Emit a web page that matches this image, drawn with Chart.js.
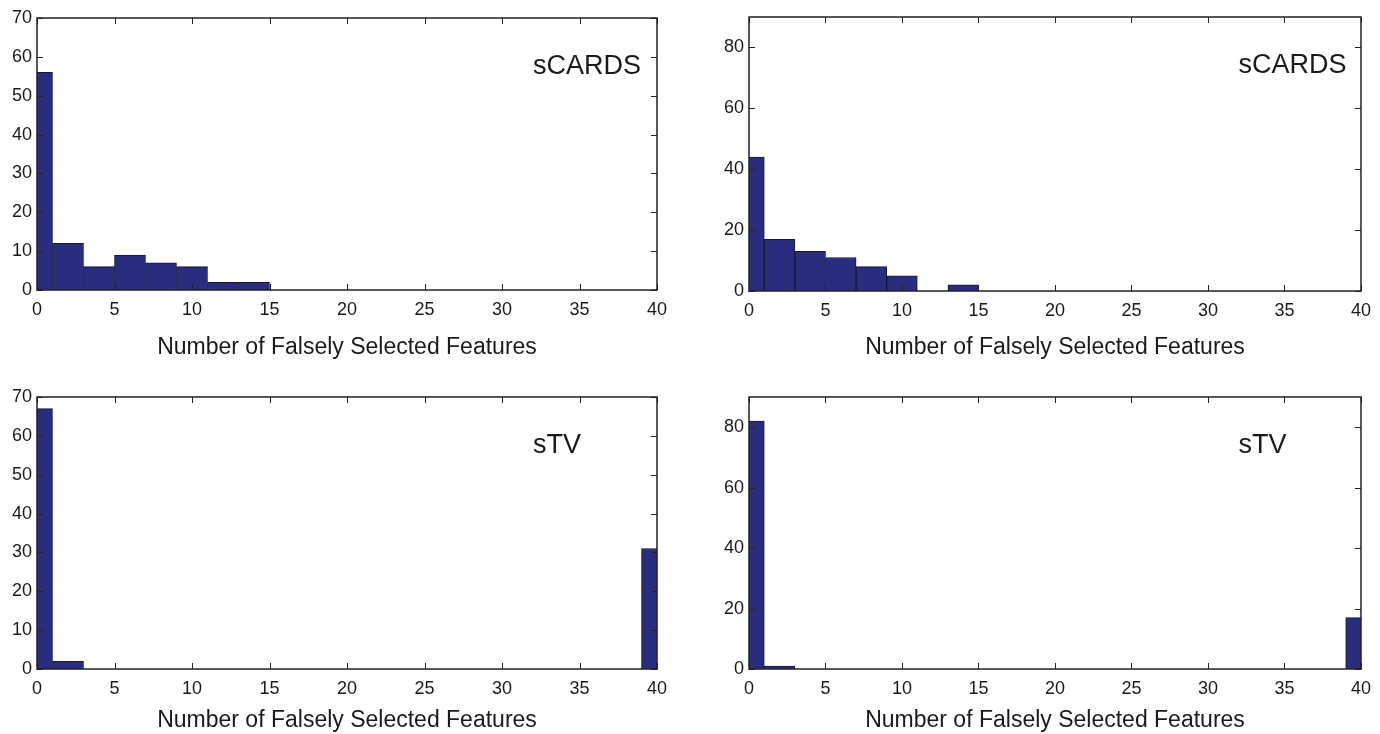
<!DOCTYPE html>
<html>
<head>
<meta charset="utf-8">
<script src="https://cdn.jsdelivr.net/npm/chart.js@4/dist/chart.umd.min.js"></script>
<style>
  html, body { margin: 0; padding: 0; background: #ffffff; }
  body { width: 1380px; height: 734px; position: relative; overflow: hidden; }
  .panel { position: absolute; }
</style>
</head>
<body>
<div class="panel" id="p1" style="left:0px;top:0px;width:690px;height:367px;"><canvas id="c1"></canvas></div>
<div class="panel" id="p2" style="left:700px;top:0px;width:680px;height:367px;"><canvas id="c2"></canvas></div>
<div class="panel" id="p3" style="left:0px;top:380px;width:690px;height:354px;"><canvas id="c3"></canvas></div>
<div class="panel" id="p4" style="left:700px;top:380px;width:680px;height:354px;"><canvas id="c4"></canvas></div>
<script>
// ---- data ----
const binCenters = [0, 2, 4, 6, 8, 10, 12, 14, 16, 18, 20, 22, 24, 26, 28, 30, 32, 34, 36, 38, 40];
const countsCardsLeft  = [56, 12, 6, 9, 7, 6, 2, 2, 0, 0, 0, 0, 0, 0, 0, 0, 0, 0, 0, 0, 0];
const countsCardsRight = [44, 17, 13, 11, 8, 5, 0, 2, 0, 0, 0, 0, 0, 0, 0, 0, 0, 0, 0, 0, 0];
const countsTvLeft     = [67, 2, 0, 0, 0, 0, 0, 0, 0, 0, 0, 0, 0, 0, 0, 0, 0, 0, 0, 0, 31];
const countsTvRight    = [82, 1, 0, 0, 0, 0, 0, 0, 0, 0, 0, 0, 0, 0, 0, 0, 0, 0, 0, 0, 17];
const xTicks = [0, 5, 10, 15, 20, 25, 30, 35, 40];
const yTicksLeft = [0, 10, 20, 30, 40, 50, 60, 70];
const yTicksRight = [0, 20, 40, 60, 80];
const xLabel = 'Number of Falsely Selected Features';
const methodCards = 'sCARDS';
const methodTv = 'sTV';

const FONT = "'Liberation Sans', Arial, Helvetica, sans-serif";
const BAR_FILL = '#2a2d7e';
const BAR_EDGE = '#15163a';
const AXIS_COLOR = '#222222';

// draws box, inward ticks on all 4 sides, and the method label
const boxPlugin = {
  id: 'boxPlugin',
  afterDraw(chart, args, opts) {
    const ctx = chart.ctx;
    const a = chart.chartArea;
    const xs = chart.scales.x, ys = chart.scales.y;
    const tl = 6;
    ctx.save();
    ctx.strokeStyle = AXIS_COLOR;
    ctx.lineWidth = 1;
    ctx.beginPath();
    xs.ticks.forEach(t => {
      const px = Math.round(xs.getPixelForValue(t.value)) + 0.5;
      ctx.moveTo(px, a.bottom); ctx.lineTo(px, a.bottom - tl);
      ctx.moveTo(px, a.top); ctx.lineTo(px, a.top + tl);
    });
    ys.ticks.forEach(t => {
      const py = Math.round(ys.getPixelForValue(t.value)) + 0.5;
      ctx.moveTo(a.left, py); ctx.lineTo(a.left + tl, py);
      ctx.moveTo(a.right, py); ctx.lineTo(a.right - tl, py);
    });
    ctx.stroke();
    ctx.lineWidth = 1.5;
    ctx.strokeRect(a.left, a.top, a.right - a.left, a.bottom - a.top);
    // method label
    ctx.fillStyle = '#1a1a1a';
    ctx.font = '27px ' + FONT;
    ctx.textAlign = 'left';
    ctx.textBaseline = 'middle';
    const lx = xs.getPixelForValue(opts.labelX);
    const ly = a.top + (a.bottom - a.top) * 0.178;
    ctx.fillText(opts.text, lx, ly);
    ctx.restore();
  }
};

function makeChart(canvasId, counts, yMax, yTicks, text, area, divH) {
  const points = binCenters.map((c, i) => ({ x: c, y: counts[i] }));
  return new Chart(document.getElementById(canvasId), {
    type: 'bar',
    data: {
      datasets: [{
        data: points,
        backgroundColor: BAR_FILL,
        borderColor: BAR_EDGE,
        borderWidth: 1,
        borderSkipped: 'start',
        barPercentage: 1.0,
        categoryPercentage: 1.0,
        clip: 0
      }]
    },
    options: {
      responsive: true,
      maintainAspectRatio: false,
      animation: false,
      events: [],
      layout: { padding: { top: area.top, right: area.right, left: 0, bottom: 0 } },
      plugins: {
        legend: { display: false },
        tooltip: { enabled: false },
        boxPlugin: { text: text, labelX: 32 }
      },
      scales: {
        x: {
          type: 'linear',
          min: 0, max: 40,
          offset: false,
          grid: { display: false, drawTicks: false },
          border: { display: false },
          afterBuildTicks: s => { s.ticks = xTicks.map(v => ({ value: v })); },
          afterFit: s => { s.height = divH - area.bottom; },
          ticks: {
            padding: 9,
            color: '#1a1a1a',
            font: { family: FONT, size: 18 },
            maxRotation: 0,
            autoSkip: false
          },
          title: {
            display: true,
            text: xLabel,
            color: '#1a1a1a',
            font: { family: FONT, size: 23 },
            padding: { top: 0, bottom: area.titlePad }
          }
        },
        y: {
          type: 'linear',
          min: 0, max: yMax,
          grid: { display: false, drawTicks: false },
          border: { display: false },
          afterBuildTicks: s => { s.ticks = yTicks.map(v => ({ value: v })); },
          afterFit: s => { s.width = area.left; },
          ticks: {
            padding: 5,
            color: '#1a1a1a',
            font: { family: FONT, size: 18 },
            autoSkip: false
          }
        }
      }
    },
    plugins: [boxPlugin]
  });
}

makeChart('c1', countsCardsLeft, 70, yTicksLeft, methodCards, { left: 37, right: 33, top: 18, bottom: 290, titlePad: 6 }, 367);
makeChart('c2', countsCardsRight, 90, yTicksRight, methodCards, { left: 49, right: 11, top: 17, bottom: 291, titlePad: 6 }, 367);
makeChart('c3', countsTvLeft, 70, yTicksLeft, methodTv, { left: 37, right: 33, top: 17, bottom: 289, titlePad: 0 }, 354);
makeChart('c4', countsTvRight, 90, yTicksRight, methodTv, { left: 49, right: 11, top: 17, bottom: 289, titlePad: 0 }, 354);
</script>
</body>
</html>
